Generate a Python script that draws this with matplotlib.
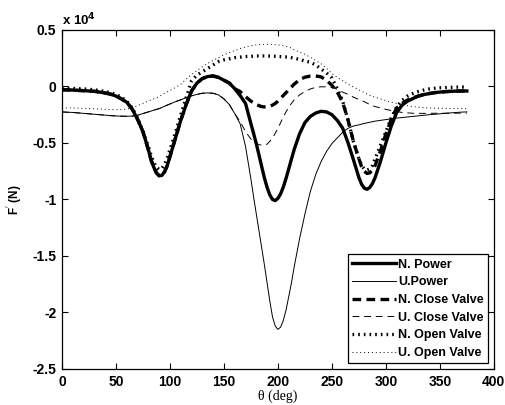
import matplotlib
matplotlib.use('Agg')
import matplotlib.pyplot as plt
import numpy as np

plt.rcParams['font.family'] = ['Liberation Sans', 'DejaVu Sans']
plt.rcParams['axes.unicode_minus'] = False

# crank angle grid (deg): 5 deg steps, 2.5 deg steps through the dips
theta = np.concatenate([np.arange(0, 81, 5), np.arange(82.5, 98, 2.5),
                        np.arange(100, 176, 5), np.arange(177.5, 213, 2.5),
                        np.arange(215, 276, 5), np.arange(277.5, 288, 2.5),
                        np.arange(290, 376, 5)])

# force values in units of 1e4 N
n_power = [-0.03, -0.03, -0.032, -0.035, -0.037, -0.04, -0.043, -0.05, -0.058, -0.068,
           -0.085, -0.11, -0.14, -0.20, -0.29, -0.40, -0.56,
           -0.65, -0.715, -0.765, -0.79, -0.787, -0.755, -0.70,
           -0.62, -0.46, -0.30, -0.16, -0.04, 0.03, 0.07, 0.088, 0.093, 0.08,
           0.055, 0.03, -0.02, -0.08, -0.15, -0.33,
           -0.417, -0.508, -0.608, -0.71, -0.81, -0.894, -0.96, -1.0, -1.01, -0.99,
           -0.95, -0.89, -0.814, -0.73, -0.644,
           -0.56, -0.42, -0.32, -0.265, -0.235, -0.22, -0.225, -0.25, -0.30, -0.37,
           -0.50, -0.65, -0.806,
           -0.865, -0.90, -0.91, -0.895, -0.86,
           -0.807, -0.663, -0.50, -0.35, -0.23, -0.165, -0.13, -0.107, -0.085, -0.072,
           -0.063, -0.055, -0.05, -0.046, -0.043, -0.041, -0.04, -0.04]

u_power = [-0.225, -0.228, -0.23, -0.234, -0.238, -0.242, -0.246, -0.25, -0.254, -0.258,
           -0.261, -0.263, -0.264, -0.262, -0.255, -0.24, -0.225,
           -0.218, -0.21, -0.203, -0.196, -0.186, -0.175, -0.165,
           -0.155, -0.135, -0.118, -0.10, -0.083, -0.07, -0.06, -0.057, -0.06, -0.075,
           -0.11, -0.16, -0.24, -0.33, -0.53, -0.82,
           -0.98, -1.13, -1.28, -1.43, -1.58, -1.74, -1.90, -2.04, -2.12, -2.15,
           -2.13, -2.07, -1.98, -1.86, -1.74,
           -1.60, -1.35, -1.13, -0.93, -0.78, -0.665, -0.575, -0.505, -0.455, -0.405,
           -0.37, -0.35, -0.34,
           -0.333, -0.327, -0.322, -0.317, -0.312,
           -0.307, -0.30, -0.293, -0.287, -0.28, -0.275, -0.27, -0.265, -0.26, -0.255,
           -0.25, -0.246, -0.242, -0.238, -0.234, -0.23, -0.227, -0.225]

n_close = [-0.03, -0.03, -0.032, -0.035, -0.037, -0.04, -0.043, -0.05, -0.058, -0.068,
           -0.085, -0.11, -0.14, -0.20, -0.29, -0.40, -0.56,
           -0.65, -0.715, -0.765, -0.79, -0.787, -0.755, -0.70,
           -0.62, -0.46, -0.30, -0.16, -0.04, 0.03, 0.07, 0.088, 0.093, 0.08,
           0.055, 0.03, -0.02, -0.045, -0.09, -0.13,
           -0.145, -0.16, -0.17, -0.178, -0.181, -0.18, -0.174, -0.165, -0.15, -0.13,
           -0.105, -0.08, -0.055, -0.03, -0.005,
           0.02, 0.06, 0.082, 0.092, 0.093, 0.085, 0.055, 0.01, -0.05, -0.14,
           -0.30, -0.49, -0.64,
           -0.71, -0.75, -0.77, -0.765, -0.74,
           -0.70, -0.57, -0.42, -0.29, -0.19, -0.15, -0.12, -0.10, -0.085, -0.072,
           -0.063, -0.055, -0.05, -0.046, -0.043, -0.041, -0.04, -0.04]

u_close = [-0.225, -0.228, -0.23, -0.234, -0.238, -0.242, -0.246, -0.25, -0.254, -0.258,
           -0.261, -0.263, -0.264, -0.262, -0.255, -0.24, -0.225,
           -0.218, -0.21, -0.203, -0.196, -0.186, -0.175, -0.165,
           -0.155, -0.135, -0.118, -0.10, -0.083, -0.07, -0.06, -0.057, -0.06, -0.075,
           -0.11, -0.16, -0.24, -0.31, -0.40, -0.465,
           -0.49, -0.505, -0.515, -0.52, -0.52, -0.51, -0.485, -0.455, -0.415, -0.37,
           -0.32, -0.27, -0.225, -0.185, -0.15,
           -0.12, -0.075, -0.045, -0.022, -0.008, -0.003, -0.003, -0.008, -0.025, -0.05,
           -0.07, -0.095, -0.115,
           -0.125, -0.135, -0.147, -0.16, -0.17,
           -0.178, -0.19, -0.203, -0.213, -0.222, -0.23, -0.234, -0.237, -0.238, -0.238,
           -0.238, -0.237, -0.237, -0.237, -0.236, -0.236, -0.236, -0.236]

n_open = [-0.015, -0.015, -0.017, -0.02, -0.022, -0.025, -0.03, -0.036, -0.045, -0.055,
          -0.07, -0.095, -0.13, -0.19, -0.28, -0.40, -0.53,
          -0.61, -0.67, -0.715, -0.735, -0.725, -0.69, -0.63,
          -0.56, -0.41, -0.25, -0.10, 0.05, 0.10, 0.13, 0.16, 0.19, 0.22,
          0.235, 0.245, 0.255, 0.26, 0.265, 0.267,
          0.268, 0.27, 0.27, 0.27, 0.27, 0.27, 0.269, 0.268, 0.267, 0.265,
          0.264, 0.262, 0.261, 0.26, 0.255,
          0.25, 0.24, 0.225, 0.215, 0.19, 0.155, 0.12, 0.075, -0.02, -0.13,
          -0.30, -0.49, -0.64,
          -0.70, -0.73, -0.74, -0.73, -0.70,
          -0.64, -0.52, -0.40, -0.28, -0.18, -0.125, -0.085, -0.063, -0.045, -0.032,
          -0.022, -0.016, -0.012, -0.01, -0.008, -0.006, -0.005, -0.005]

u_open = [-0.19, -0.19, -0.19, -0.192, -0.194, -0.196, -0.198, -0.20, -0.202, -0.204,
          -0.205, -0.205, -0.20, -0.19, -0.17, -0.15, -0.13,
          -0.12, -0.11, -0.10, -0.09, -0.075, -0.06, -0.048,
          -0.035, -0.01, 0.02, 0.065, 0.105, 0.14, 0.175, 0.205, 0.23, 0.255,
          0.28, 0.30, 0.318, 0.335, 0.35, 0.36,
          0.364, 0.368, 0.37, 0.372, 0.373, 0.373, 0.373, 0.372, 0.37, 0.368,
          0.364, 0.36, 0.355, 0.348, 0.34,
          0.325, 0.305, 0.285, 0.258, 0.23, 0.20, 0.16, 0.115, 0.08, 0.05,
          0.02, -0.005, -0.03,
          -0.042, -0.055, -0.067, -0.078, -0.087,
          -0.095, -0.11, -0.125, -0.14, -0.15, -0.16, -0.17, -0.178, -0.183, -0.187,
          -0.19, -0.192, -0.193, -0.194, -0.195, -0.195, -0.196, -0.196]

labels = ['N. Power', 'U.Power', 'N. Close Valve', 'U. Close Valve',
          'N. Open Valve', 'U. Open Valve']
xticks = [0, 50, 100, 150, 200, 250, 300, 350, 400]
yticks = [0.5, 0, -0.5, -1, -1.5, -2, -2.5]
ytick_labels = ['0.5', '0', '-0.5', '-1', '-1.5', '-2', '-2.5']

fig = plt.figure(figsize=(5.06, 4.05), dpi=100)
ax = fig.add_axes([0.1225, 0.089, 0.8535, 0.837])

ax.plot(theta, n_power, color='k', lw=2.4, label=labels[0])
ax.plot(theta, u_power, color='k', lw=0.7, label=labels[1])
ax.plot(theta, n_close, color='k', lw=2.4, ls=(0, (2.6, 1.6)), label=labels[2])
ax.plot(theta, u_close, color='k', lw=0.7, ls=(0, (7, 5)), label=labels[3])
ax.plot(theta, n_open, color='k', lw=2.4, ls=(0, (0.5, 1.2)), label=labels[4])
ax.plot(theta, u_open, color='k', lw=0.7, ls=(0, (1, 3)), label=labels[5])

ax.set_xlim(0, 400)
ax.set_ylim(-2.5, 0.5)
ax.set_xticks(xticks)
ax.set_yticks(yticks)
ax.set_yticklabels(ytick_labels)
for lab in ax.get_xticklabels() + ax.get_yticklabels():
    lab.set_fontweight('bold')
    lab.set_fontsize(10)
ax.tick_params(direction='in', top=True, right=True, length=4, width=0.8, pad=4)
for sp in ax.spines.values():
    sp.set_linewidth(0.9)

ax.set_xlabel('\u03b8 (deg)', family=['Liberation Serif'], fontsize=10, labelpad=1)
ax.set_ylabel(r"F$^{'}$ (N)", fontweight='bold', fontsize=8.5, labelpad=6)
ax.text(0.0, 1.005, r'x 10$^{\mathbf{4}}$', transform=ax.transAxes, fontsize=9.5,
        fontweight='bold', ha='left', va='bottom')

leg = ax.legend(loc='lower right', fontsize=9, frameon=True, fancybox=False,
                handlelength=3.5, handletextpad=0.2, borderpad=0.35, labelspacing=0.45,
                borderaxespad=0.45, edgecolor='k', framealpha=1)
leg.get_frame().set_linewidth(0.9)
for t in leg.get_texts():
    t.set_fontweight('bold')

fig.savefig('out.png', dpi=100)
